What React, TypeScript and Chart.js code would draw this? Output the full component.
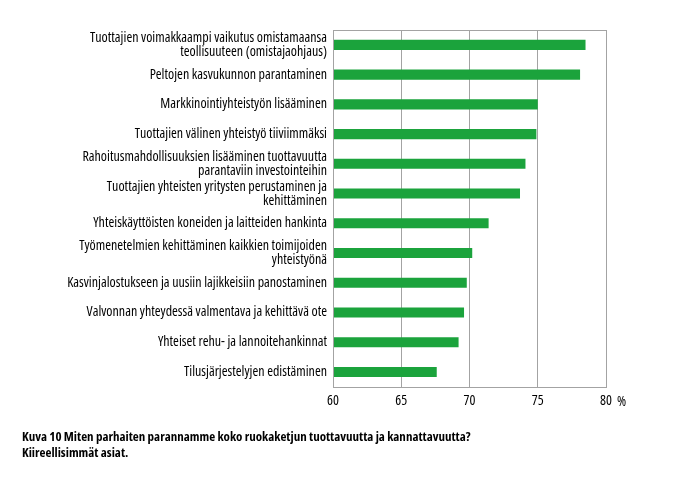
import React, { useEffect, useRef } from "react";
import { Chart, registerables } from "chart.js";

Chart.register(...registerables);

const categories: string[][] = [
  ["Tuottajien voimakkaampi vaikutus omistamaansa", "teollisuuteen (omistajaohjaus)"],
  ["Peltojen kasvukunnon parantaminen"],
  ["Markkinointiyhteistyön lisääminen"],
  ["Tuottajien välinen yhteistyö tiiviimmäksi"],
  ["Rahoitusmahdollisuuksien lisääminen tuottavuutta", "parantaviin investointeihin"],
  ["Tuottajien yhteisten yritysten perustaminen ja", "kehittäminen"],
  ["Yhteiskäyttöisten koneiden ja laitteiden hankinta"],
  ["Työmenetelmien kehittäminen kaikkien toimijoiden", "yhteistyönä"],
  ["Kasvinjalostukseen ja uusiin lajikkeisiin panostaminen"],
  ["Valvonnan yhteydessä valmentava ja kehittävä ote"],
  ["Yhteiset rehu- ja lannoitehankinnat"],
  ["Tilusjärjestelyjen edistäminen"],
];

const values: number[] = [78.5, 78.1, 75.0, 74.9, 74.1, 73.7, 71.4, 70.2, 69.8, 69.6, 69.2, 67.6];

const xMin = 60;
const xMax = 80;
const xStep = 5;
const unitLabel = "%";

const captionLines: string[] = [
  "Kuva 10 Miten parhaiten parannamme koko ruokaketjun tuottavuutta ja kannattavuutta?",
  "Kiireellisimmät asiat.",
];

const FONT = "'Open Sans', 'DejaVu Sans Condensed', sans-serif";
const GRID = "#a3a3a3";
const BAR = "#1ba33c";

export default function App() {
  const ref = useRef<HTMLCanvasElement | null>(null);

  useEffect(() => {
    document.body.style.margin = "0";
    if (!ref.current) return;

    const boxPlugin = {
      id: "boxAndUnit",
      afterDraw(chart: any) {
        const { ctx, chartArea } = chart;
        ctx.save();
        ctx.strokeStyle = GRID;
        ctx.lineWidth = 1;
        ctx.strokeRect(
          Math.round(chartArea.left) + 0.5,
          Math.round(chartArea.top) + 0.5,
          Math.round(chartArea.right - chartArea.left),
          Math.round(chartArea.bottom - chartArea.top)
        );
        const xs = chart.scales.x;
        ctx.fillStyle = "#000";
        ctx.font = "condensed 14px " + FONT;
        ctx.textAlign = "left";
        ctx.textBaseline = "middle";
        ctx.fillText(unitLabel, xs.getPixelForValue(xMax) + 11, chartArea.bottom + 15);
        ctx.restore();
      },
    };

    const chart = new Chart(ref.current, {
      type: "bar",
      data: {
        labels: categories,
        datasets: [
          {
            data: values,
            backgroundColor: BAR,
            borderWidth: 0,
            barPercentage: 0.34,
            categoryPercentage: 1,
          },
        ],
      },
      options: {
        indexAxis: "y",
        animation: false,
        responsive: false,
        layout: { padding: { left: 22, right: 67, top: 30, bottom: 28.5 } },
        plugins: {
          legend: { display: false },
          tooltip: { enabled: false },
          title: {
            display: true,
            text: captionLines,
            position: "bottom",
            align: "start",
            color: "#000",
            font: { family: FONT, size: 13, weight: "bold condensed" as any, lineHeight: 1.18 },
            padding: { top: 13, bottom: 0 },
          },
        },
        scales: {
          x: {
            min: xMin,
            max: xMax,
            afterFit: (scale: any) => {
              scale.height = 30;
            },
            ticks: {
              stepSize: xStep,
              color: "#000",
              font: { family: FONT, size: 14, weight: "condensed" as any },
              padding: 6,
            },
            grid: { color: GRID, drawTicks: false },
            border: { display: false },
          },
          y: {
            afterFit: (scale: any) => {
              scale.width = 311;
            },
            ticks: {
              color: "#000",
              font: { family: FONT, size: 14, weight: "condensed" as any, lineHeight: 1.0 },
              padding: 6,
              autoSkip: false,
            },
            grid: { display: false, drawTicks: false },
            border: { display: false },
          },
        },
      },
      plugins: [boxPlugin],
    });

    return () => chart.destroy();
  }, []);

  return (
    <div style={{ width: 673, height: 489, background: "#fff" }}>
      <canvas ref={ref} width={673} height={489} style={{ display: "block" }} />
    </div>
  );
}
